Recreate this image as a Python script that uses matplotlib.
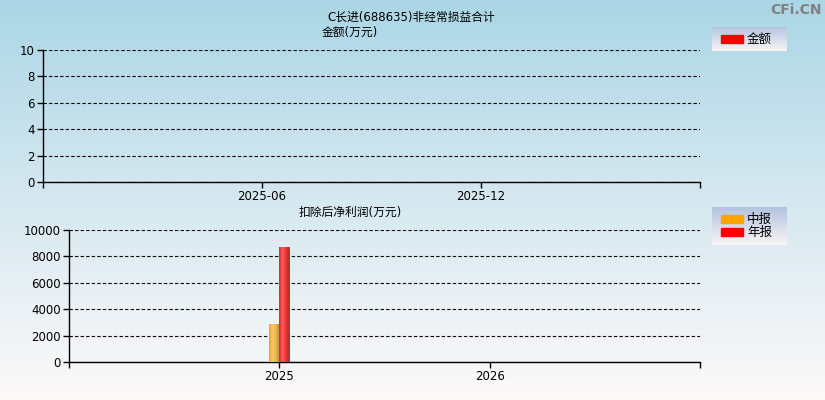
import numpy as np
import matplotlib
matplotlib.use('Agg')
from matplotlib import pyplot as plt
from matplotlib.colors import LinearSegmentedColormap
from matplotlib.patches import Rectangle

plt.rcParams['font.family'] = ['DejaVu Sans', 'Noto Sans CJK SC']

# top chart: no data points (empty)
top_ticks = [1, 2]
top_ticklabels = ['2025-06', '2025-12']
top_yticks = [0, 2, 4, 6, 8, 10]

# bottom chart
years = [2025]
mid_report = [2885]    # 中报
annual_report = [8730]  # 年报
bot_ticks = [2025, 2026]
bot_yticks = [0, 2000, 4000, 6000, 8000, 10000]

W, H = 825, 400
fig = plt.figure(figsize=(W / 100, H / 100), dpi=100)

# background gradient
bg = fig.add_axes([0, 0, 1, 1], zorder=-10)
bg_cmap = LinearSegmentedColormap.from_list('bg', ['#abd6e5', '#d6e8f0', '#fdf9f9'])
bg.imshow(np.linspace(0, 1, 256).reshape(-1, 1), aspect='auto', cmap=bg_cmap,
          extent=[0, 1, 0, 1])
bg.axis('off')


def px_axes(x0, y0, x1, y1):
    return fig.add_axes([x0 / W, 1 - y1 / H, (x1 - x0) / W, (y1 - y0) / H])


def style(ax):
    ax.patch.set_alpha(0)
    for s in ['top', 'right']:
        ax.spines[s].set_visible(False)
    ax.spines['left'].set_linewidth(1)
    ax.spines['bottom'].set_linewidth(1)
    ax.tick_params(axis='both', direction='out', length=4, width=1,
                   labelsize=8.5, pad=2)
    ax.grid(axis='y', linestyle=(0, (3, 2)), color='black', linewidth=0.8)
    ax.set_axisbelow(True)


# top axes
ax1 = px_axes(43, 50, 700, 182)
style(ax1)
ax1.set_xlim(0, 3)
ax1.set_ylim(0, 10)
ax1.set_yticks(top_yticks)
ax1.set_xticks([0] + top_ticks + [3])
ax1.set_xticklabels([''] + top_ticklabels + [''])

# bottom axes
ax2 = px_axes(69, 230, 700, 362)
style(ax2)
ax2.set_ylim(0, 10000)
ax2.set_yticks(bot_yticks)

bw = 0.05
orange_cmap = LinearSegmentedColormap.from_list('o', ['#f0a030', '#ffc860', '#e8b050', '#b08840'])
red_cmap = LinearSegmentedColormap.from_list('r', ['#e02828', '#ff5a5a', '#e83030', '#983838'])
for vals, off, cmap, base in [(mid_report, -bw / 2, orange_cmap, '#ffa500'),
                              (annual_report, bw / 2, red_cmap, '#ff0000')]:
    bars = ax2.bar(np.array(years) + off, vals, width=bw, color=base, zorder=3)
    for b in bars:
        x0, y0 = b.get_x(), b.get_y()
        im = ax2.imshow(np.linspace(0, 1, 64).reshape(1, -1), aspect='auto', cmap=cmap,
                        extent=[x0, x0 + b.get_width(), y0, y0 + b.get_height()],
                        zorder=4)
        im.set_clip_path(b)
ax2.set_xlim(2024, 2027)
ax2.set_ylim(0, 10000)
ax2.set_xticks([2024] + bot_ticks + [2027])
ax2.set_xticklabels([''] + [str(t) for t in bot_ticks] + [''])

# texts
fig.text(411 / W, 1 - 17 / H, 'C长进(688635)非经常损益合计', ha='center', va='center', fontsize=8.5)
fig.text(350 / W, 1 - 32 / H, '金额(万元)', ha='center', va='center', fontsize=8.5)
fig.text(350 / W, 1 - 212 / H, '扣除后净利润(万元)', ha='center', va='center', fontsize=8.5)
fig.text(822 / W, 1 - 10 / H, 'CFi.CN', ha='right', va='center', fontsize=10,
         color='#808080', fontweight='bold')

# legends
leg_cmap = LinearSegmentedColormap.from_list('lg', ['#b3c3df', '#f8f4f6'])


def legend_box(x0, y0, x1, y1, items):
    lax = px_axes(x0, y0, x1, y1)
    lax.imshow(np.linspace(0, 1, 64).reshape(-1, 1), aspect='auto', cmap=leg_cmap,
               extent=[x0, x1, y1, y0])
    lax.set_xlim(x0, x1)
    lax.set_ylim(y1, y0)
    lax.axis('off')
    for i, (label, color) in enumerate(items):
        cy = y0 + 12 + i * 13 if len(items) > 1 else (y0 + y1) / 2
        lax.add_patch(Rectangle((721, cy - 4), 22, 8, color=color))
        lax.text(747, cy, label, va='center', ha='left', fontsize=9)


legend_box(712, 27, 787, 51, [('金额', '#ff0000')])
legend_box(712, 207, 787, 245, [('中报', '#ffa500'), ('年报', '#ff0000')])

fig.savefig('out.png', dpi=100)
